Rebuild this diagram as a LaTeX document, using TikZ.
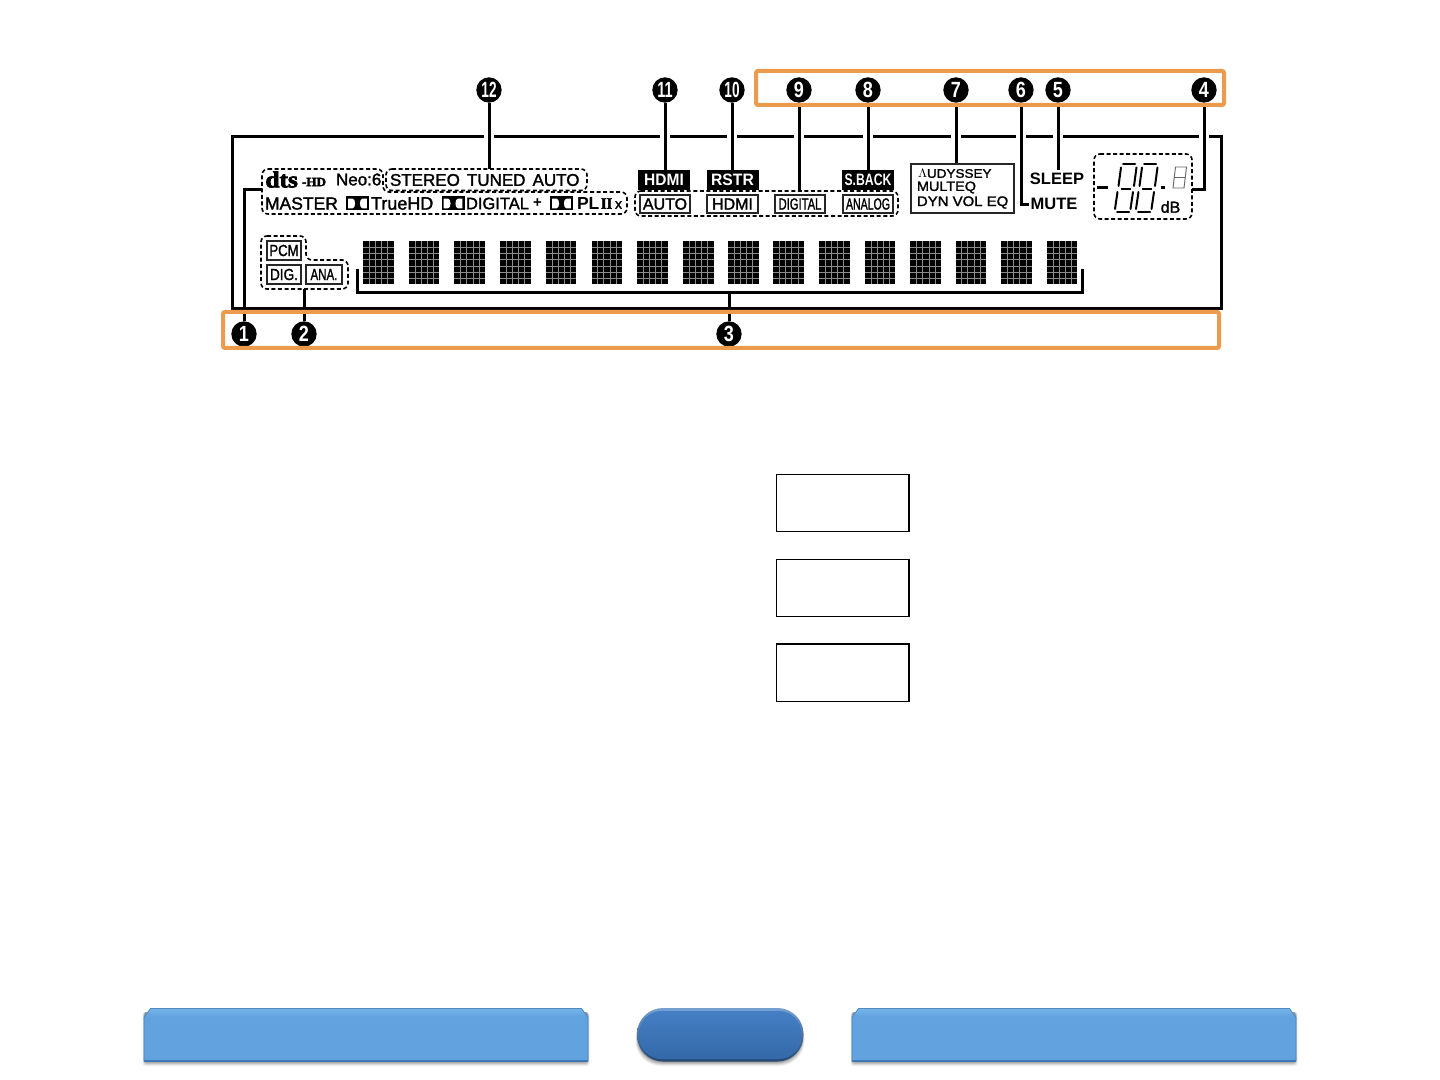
\documentclass[tikz,border=0pt]{standalone}
\usepackage{fontspec}
\usepackage{graphicx}
\setmainfont{Liberation Sans}
\newfontfamily\serfont{Liberation Serif Bold}[FakeBold=3]
\newfontfamily\semi{Liberation Sans}[FakeBold=1.6]
\newcommand{\fpx}[1]{\pgfmathsetmacro\fpxv{#1*0.75}\fontsize{\fpxv}{\fpxv}\selectfont}
\definecolor{orng}{HTML}{EC9A4C}
\definecolor{btn}{HTML}{61A2DF}
\definecolor{btnhi}{HTML}{93D2F5}
\definecolor{btnlo}{HTML}{3F78B5}
\definecolor{pill}{HTML}{3B78C0}
\tikzset{
  x=.75pt,y=-.75pt,
  num/.style={circle,fill=black,text=white,inner sep=0pt,minimum size=19pt,font=\fontsize{16.5}{16.5}\selectfont\bfseries},
  leader/.style={line width=2.25pt,line cap=butt,line join=miter},
  frameline/.style={line width=2.25pt,line join=miter},
  hilite/.style={draw=orng,line width=3pt,rounded corners=1.5pt},
  dashbox/.style={draw=black,line width=1.2pt,dash pattern=on 3pt off 1.9pt,rounded corners=4.5pt},
  lab/.style={inner sep=0pt,outer sep=0pt,text=black},
  blackbox/.style={fill=black,draw=black,line width=.5pt},
  tagbox/.style={draw=black!85,line width=1.1pt,fill=white},
  emptybox/.style={draw=black,line width=1pt,fill=white},
}
\newcommand{\dolby}[2]{% x, y centre
  \begin{scope}[shift={(#1,#2)}]
    \fill[black] (-11.5,-7) rectangle (11.5,7);
    \fill[white] (-9.3,-4.9) -- (-9.3,4.9) -- (-5,4.9) .. controls (-1.6,4.9) and (-1.6,-4.9) .. (-5,-4.9) -- cycle;
    \fill[white] (9.3,-4.9) -- (9.3,4.9) -- (5,4.9) .. controls (1.6,4.9) and (1.6,-4.9) .. (5,-4.9) -- cycle;
  \end{scope}}
\newcommand{\segdigit}[1]{% x offset of a tall two-part digit
  \begin{scope}[shift={(#1,0)},line width=1.5pt,line cap=round]
    \draw (1123,164) -- (1135,164);
    \draw (1121,167.5) -- (1118.5,186);
    \draw (1136.5,167.5) -- (1134,186);
    \draw (1117.5,192) -- (1115,209);
    \draw (1133,192) -- (1130.5,209);
    \draw (1117,212.5) -- (1129,212.5);
    \draw[line width=.9pt] (1121.5,189) -- (1130.5,189);
  \end{scope}}
\newcommand{\btnbar}[2]{% left, right
  \foreach \s/\o in {5/.06,4/.08,3/.10,2/.12,1/.14}{
    \fill[black,opacity=\o,rounded corners=2pt] (#1+1-\s/2,1012) rectangle (#2-1+\s/2,1061+\s);}
  \fill[btn] (#1,1017) -- (#1+7,1008) -- (#2-7,1008) -- (#2,1017) -- (#2,1061) -- (#1,1061) -- cycle;
  \shade[top color=btn!60!btnhi,middle color=btnhi,bottom color=btn] (#1+7,1008) -- (#2-7,1008) -- (#2-1,1017) -- (#1+1,1017) -- cycle;
  \draw[btnlo,line width=.9pt] (#1,1061) -- (#2,1061);
  \draw[btnlo!70!btn,line width=.5pt] (#1,1061) -- (#1,1017) -- (#1+7,1008) (#2,1061) -- (#2,1017) -- (#2-7,1008);
  \draw[btn!85!black,line width=.4pt] (#1+7,1008) -- (#2-7,1008);
}
\begin{document}
\begin{tikzpicture}
\useasboundingbox (0,0) rectangle (1440,1080);
\fill[white] (0,0) rectangle (1440,1080);

% outer frame with gaps
\draw[frameline] (232,310) -- (232,137) -- (1221,137) -- (1221,310);
\draw[frameline] (232,309) -- (1221,309);
\foreach \gx in {489,665,732,799,868,956,1021,1058,1204}{
  \fill[white] (\gx-5,134) rectangle (\gx+5,140);
}

% numbered markers
\node[num] (n1) at (244,334) {\scalebox{.82}[1]{1}};
\node[num] (n2) at (304,334) {\scalebox{.82}[1]{2}};
\node[num] (n3) at (729,334) {\scalebox{.82}[1]{3}};
\node[num] (n4) at (1204,90) {\scalebox{.82}[1]{4}};
\node[num] (n5) at (1058,90) {\scalebox{.82}[1]{5}};
\node[num] (n6) at (1021,90) {\scalebox{.82}[1]{6}};
\node[num] (n7) at (956,90) {\scalebox{.82}[1]{7}};
\node[num] (n8) at (868,90) {\scalebox{.82}[1]{8}};
\node[num] (n9) at (799,90) {\scalebox{.82}[1]{9}};
\node[num] (n10) at (732,90) {\scalebox{.62}[1]{10}};
\node[num] (n11) at (665,90) {\scalebox{.66}[1]{11}};
\node[num] (n12) at (489,90) {\scalebox{.62}[1]{12}};

% free ends of leaders
\coordinate (e1) at (262,190);
\coordinate (e2) at (304,289);
\coordinate (e3) at (729,293);
\coordinate (e4) at (1192,190);
\coordinate (e5) at (1058,170);
\coordinate (e6) at (1029,205);
\coordinate (e7) at (956,164);
\coordinate (e8) at (868,170);
\coordinate (e9) at (799,191);
\coordinate (e10) at (732,170);
\coordinate (e11) at (665,170);
\coordinate (e12) at (489,169);

\draw[leader] (n1) |- (e1);
\draw[leader] (n2) -- (e2);
\draw[leader] (n3) -- (e3);
\draw[leader] (n4) |- (e4);
\draw[leader] (n5) -- (e5);
\draw[leader] (n6) |- (e6);
\draw[leader] (n7) -- (e7);
\draw[leader] (n8) -- (e8);
\draw[leader] (n9) -- (e9);
\draw[leader] (n10) -- (e10);
\draw[leader] (n11) -- (e11);
\draw[leader] (n12) -- (e12);

% bracket under the matrices
\coordinate (bl) at (357,269);
\coordinate (br) at (1082,269);
\draw[leader] (bl) |- (e3) -| (br);

% orange highlights
\draw[hilite] (756,71) rectangle (1224,105);
\draw[hilite] (223,312) rectangle (1219,348);

% dashed groups
\draw[dashbox] (262,169) -- (383,169) -- (383,192) -- (627,192) -- (627,214) -- (262,214) -- cycle;
\draw[dashbox] (386,169) -- (587,169) -- (587,190.5) -- (386,190.5) -- cycle;
\draw[dashbox] (635,191) -- (898,191) -- (898,216) -- (635,216) -- cycle;
\draw[dashbox] (261,236) -- (306,236) -- (306,260) -- (348,260) -- (348,289) -- (261,289) -- cycle;
\draw[dashbox] (1094,154) -- (1192,154) -- (1192,219) -- (1094,219) -- cycle;

% row 1 text
\node[lab,anchor=west,font=\serfont\fpx{23}] (dts) at (265.5,179.5) {\scalebox{1.1}[1]{dts}};
\node[lab,anchor=west,font=\serfont\fpx{12.5}] (dtshd) at (302,182) {\scalebox{1.05}[1]{-HD}};
\node[lab,anchor=west,font=\semi\fpx{17}] (neo) at (336,179.5) {Neo:6};
\node[lab,anchor=west,font=\semi\fpx{17}] (stereo) at (390,180) {STEREO\hspace{5.3pt}TUNED\hspace{5.3pt}AUTO};

% row 2 text
\node[lab,anchor=west,font=\semi\fpx{17.5}] (master) at (265,203.5) {MASTER};
\dolby{357.5}{203.5}
\node[lab,anchor=west,font=\semi\fpx{18}] (truehd) at (371,203.5) {TrueHD};
\dolby{453}{203.5}
\node[lab,anchor=west,font=\semi\fpx{16.5}] (digplus) at (466,203.5) {DIGITAL};
\node[lab,anchor=west,font=\bfseries\fpx{15}] (plus) at (533,203.5) {+};
\dolby{561.5}{203.5}
\node[lab,anchor=west,font=\bfseries\fpx{17.5}] (pl) at (577,203.5) {PL};
\node[lab,anchor=west,font=\serfont\fpx{16}] (plii) at (601,203.5) {\scalebox{.9}[1]{II}};
\node[lab,anchor=west,font=\semi\fpx{14}] (plx) at (615,205) {x};

% tags, top row
\node[blackbox,minimum width=38.5pt,minimum height=14pt,inner sep=0pt,text=white,font=\bfseries\fpx{16.5}] (thdmi) at (664,180) {\scalebox{.94}[1]{HDMI}};
\node[blackbox,minimum width=38pt,minimum height=14pt,inner sep=0pt,text=white,font=\bfseries\fpx{16.5}] (trstr) at (732.5,180) {\scalebox{.95}[1]{RSTR}};
\node[blackbox,minimum width=38.5pt,minimum height=14pt,inner sep=0pt,text=white,font=\bfseries\fpx{16.5}] (tsback) at (868,180) {\scalebox{.74}[1]{S.BACK}};

% tags, second row
\node[tagbox,minimum width=37.5pt,minimum height=13.5pt,inner sep=0pt,font=\semi\fpx{16}] (tauto) at (665,204) {AUTO};
\node[tagbox,minimum width=38pt,minimum height=13.5pt,inner sep=0pt,font=\semi\fpx{16}] (thdmib) at (732.5,204) {HDMI};
\node[tagbox,minimum width=37.5pt,minimum height=13.5pt,inner sep=0pt,font=\semi\fpx{16}] (tdig) at (800,204) {\scalebox{.7}[1]{DIGITAL}};
\node[tagbox,minimum width=37.5pt,minimum height=13.5pt,inner sep=0pt,font=\semi\fpx{16}] (tana) at (868,204) {\scalebox{.66}[1]{ANALOG}};

% audyssey
\node[tagbox,minimum width=77pt,minimum height=36.5pt,inner sep=0pt] (aud) at (962.5,188.5) {};
\node[lab,anchor=west,font=\semi\fpx{13.5}] (aud1) at (918,173.5) {\scalebox{1}[.92]{$\Lambda$\hspace{-.2pt}UDYSSEY}};
\node[lab,anchor=west,font=\semi\fpx{14}] (aud2) at (917,187.5) {\scalebox{1.03}[.95]{MULTEQ}};
\node[lab,anchor=west,font=\semi\fpx{14.5}] (aud3) at (917,202.5) {\scalebox{1.03}[.95]{DYN VOL EQ}};

\node[lab,font=\bfseries\fpx{16.5}] (sleep) at (1057,179) {SLEEP};
\node[lab,font=\bfseries\fpx{16.5}] (mute) at (1054,204) {MUTE};

% seven-segment read-out
\draw[line width=1.6pt] (1097,187.5) -- (1108,187.5);
\segdigit{0}
\segdigit{21}
\fill (1161,186) rectangle (1164.5,189.5);
\begin{scope}[shift={(1172.5,167)},line width=.7pt,black!60]
  \draw (3,0) -- (14,0) -- (11.5,21) -- (0.5,21) -- cycle;
  \draw (1.8,10.5) -- (12.8,10.5);
\end{scope}
\node[lab,font=\semi\fpx{16}] (db) at (1170.5,207) {dB};

% small tags
\node[tagbox,minimum width=25.5pt,minimum height=14pt,inner sep=0pt,font=\semi\fpx{16}] (pcm) at (284,250.5) {\scalebox{.82}[1]{PCM}};
\node[tagbox,minimum width=25.5pt,minimum height=14pt,inner sep=0pt,font=\semi\fpx{16}] (dig) at (284,274.5) {\scalebox{.85}[1]{DIG.}};
\node[tagbox,minimum width=27pt,minimum height=14pt,inner sep=0pt,font=\semi\fpx{16}] (ana) at (324,274.5) {\scalebox{.72}[1]{ANA.}};

% dot-matrix characters
\foreach \mx in {363,408.7,454.4,500.1,545.8,591.5,637.2,682.9,728,773.3,819,864.7,910.4,955.5,1001.3,1046.8}{
  \begin{scope}[shift={(\mx,241)}]
    \fill[black] (0,0) rectangle (30.6,43.5);
    \foreach \c in {6.1,12.2,18.4,24.5}{ \draw[black!45,line width=.45pt] (\c,0) -- (\c,43.5); }
    \foreach \r in {6.2,12.4,18.6,24.9,31.1,37.3}{ \draw[black!45,line width=.45pt] (0,\r) -- (30.6,\r); }
  \end{scope}
}

% empty boxes
\node[emptybox,minimum width=99.5pt,minimum height=43pt,inner sep=0pt] (b1) at (842.5,503) {};
\node[emptybox,minimum width=99.5pt,minimum height=43pt,inner sep=0pt] (b2) at (842.5,588) {};
\node[emptybox,minimum width=99.5pt,minimum height=43pt,inner sep=0pt] (b3) at (842.5,672.5) {};

% bottom buttons
\btnbar{144}{588}
\btnbar{852}{1296}
\foreach \s/\o in {5/.06,4/.08,3/.10,2/.12,1/.14}{
  \fill[black,opacity=\o,rounded corners=19pt] (638-\s/2,1012) rectangle (802+\s/2,1061+\s);}
\shade[top color=pill!70!white,bottom color=pill!60!black,rounded corners=19.5pt] (637,1008) rectangle (803.5,1061.5);
\shade[top color=pill!95!white,bottom color=pill!88!black,rounded corners=17pt] (639,1011) rectangle (801.5,1059);
\end{tikzpicture}
\end{document}
